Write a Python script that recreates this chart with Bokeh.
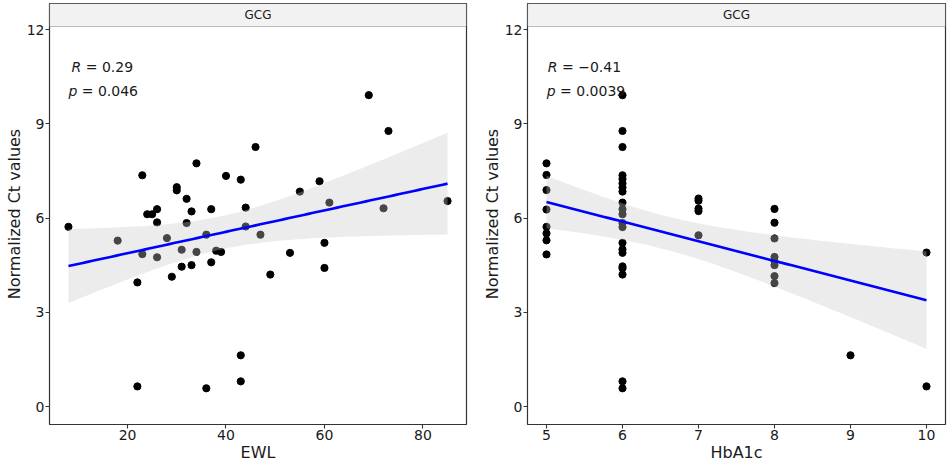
import numpy as np
from bokeh.plotting import figure
from bokeh.layouts import row
from bokeh.models import BoxAnnotation, Label, FixedTicker, Range1d
from bokeh.embed import file_html
from bokeh.resources import INLINE

# ---- data: left panel (EWL vs normalized Ct) ----
ewl = [8, 18, 22, 22, 23, 23, 24, 25, 26, 26, 26, 28, 29, 30, 30, 31, 31, 32, 32, 33,
       33, 34, 34, 36, 36, 37, 37, 38, 39, 40, 43, 43, 43, 44, 44, 46, 47, 49, 53, 55,
       59, 60, 60, 61, 69, 72, 73, 85]
ct_ewl = [5.72, 5.28, 3.95, 0.64, 7.36, 4.85, 6.12, 6.12, 6.28, 5.86, 4.75, 5.36, 4.13, 6.98, 6.88, 4.99, 4.45, 6.61, 5.84, 6.21,
          4.50, 7.74, 4.92, 5.47, 0.58, 6.28, 4.59, 4.96, 4.92, 7.34, 7.22, 1.63, 0.80, 6.33, 5.73, 8.26, 5.47, 4.20, 4.89, 6.84,
          7.17, 5.21, 4.41, 6.49, 9.91, 6.31, 8.77, 6.54]

# ---- data: right panel (HbA1c vs normalized Ct) ----
hba1c = [5] * 8 + [6] * 21 + [7] * 5 + [8] * 8 + [9] + [10] * 2
ct_hba1c = [7.74, 7.37, 6.89, 6.27, 5.72, 5.51, 5.29, 4.84,
            9.91, 8.77, 8.26, 7.36, 7.24, 7.10, 6.97, 6.84, 6.49, 6.28, 6.12, 5.84, 5.71, 5.21, 5.00, 4.89, 4.46, 4.40, 4.20, 0.80, 0.58,
            6.62, 6.55, 6.30, 6.22, 5.45,
            6.29, 5.85, 5.35, 4.76, 4.63, 4.50, 4.15, 3.93,
            1.63,
            4.90, 0.64]

strip_label = "GCG"
y_label = "Normalized Ct values"
left_xlabel = "EWL"
right_xlabel = "HbA1c"
NB = "\u00a0"
left_stats = ("R", NB + "=" + NB + "0.29", "p", NB + "=" + NB + "0.046")
right_stats = ("R", NB + "=" + NB + "\u22120.41", "p", NB + "=" + NB + "0.0039")
y_ticks = [0, 3, 6, 9, 12]
left_xticks = [20, 40, 60, 80]
right_xticks = [5, 6, 7, 8, 9, 10]

FONT = "DejaVu Sans"
DARK = "#1a1a1a"

Y_LO, Y_HI = -0.5729, 12.8276
STRIP_BOTTOM = 12.0955
STRIP_MID = 12.4615


def tq(df):
    z = 1.959964
    return z + (z**3 + z) / (4 * df) + (5 * z**5 + 16 * z**3 + 3 * z) / (96 * df**2)


def fit_band(x, y, n_pts=80):
    x = np.asarray(x, float)
    y = np.asarray(y, float)
    n = len(x)
    b, a = np.polyfit(x, y, 1)
    resid = y - (a + b * x)
    s = np.sqrt(np.sum(resid**2) / (n - 2))
    xm = x.mean()
    sxx = np.sum((x - xm) ** 2)
    xs = np.linspace(x.min(), x.max(), n_pts)
    yh = a + b * xs
    se = s * np.sqrt(1.0 / n + (xs - xm) ** 2 / sxx)
    t = tq(n - 2)
    return xs, yh, yh - t * se, yh + t * se


def panel(x, y, xr, xticks, xlabel, stats, anchors, fw, mbl, mbr):
    p = figure(frame_width=fw, frame_height=421, output_backend="svg", toolbar_location=None,
               x_range=Range1d(*xr), y_range=Range1d(Y_LO, Y_HI),
               min_border_left=mbl, min_border_right=mbr, min_border_top=3, min_border_bottom=36)
    p.xgrid.visible = False
    p.ygrid.visible = False
    p.background_fill_color = "white"
    p.border_fill_color = "white"
    p.outline_line_color = "#333333"
    p.outline_line_width = 1.2

    strip = BoxAnnotation(bottom=STRIP_BOTTOM, fill_color="#f2f2f2", fill_alpha=1.0,
                          line_color="#333333", line_width=1.2, level="underlay")
    p.add_layout(strip)
    p.add_layout(Label(x=(xr[0] + xr[1]) / 2, y=STRIP_MID, text=strip_label, text_align="center",
                       text_baseline="middle", text_font=FONT, text_font_size="12px", text_color=DARK))

    p.scatter(x, y, size=7.2, fill_color="black", line_color="black")
    xs, yh, lo, hi = fit_band(x, y)
    p.varea(x=xs, y1=lo, y2=hi, fill_color="#c8c8c8", fill_alpha=0.35)
    p.line(xs, yh, line_color="#0000ff", line_width=2.6)

    (ax_r, ay_r), (ax_p, ay_p) = anchors
    for (ax, ay, letter, rest) in [(ax_r, ay_r, stats[0], stats[1]), (ax_p, ay_p, stats[2], stats[3])]:
        p.add_layout(Label(x=ax, y=ay, text=letter, text_align="right", text_baseline="middle",
                           text_font=FONT, text_font_size="14px", text_font_style="italic", text_color=DARK))
        p.add_layout(Label(x=ax, y=ay, text=rest, text_align="left", text_baseline="middle",
                           text_font=FONT, text_font_size="14px", text_color=DARK))

    for ax in (p.xaxis, p.yaxis):
        ax.axis_line_color = None
        ax.major_tick_line_color = "#333333"
        ax.major_tick_line_width = 1.1
        ax.major_tick_out = 4
        ax.major_tick_in = 0
        ax.minor_tick_line_color = None
        ax.major_label_text_font = FONT
        ax.major_label_text_font_size = "14px"
        ax.major_label_text_color = DARK
        ax.axis_label_text_font = FONT
        ax.axis_label_text_font_size = "16px"
        ax.axis_label_text_font_style = "normal"
        ax.axis_label_text_color = DARK
        ax.major_label_standoff = 1
        ax.axis_label_standoff = 0
    p.xaxis.ticker = FixedTicker(ticks=xticks)
    p.yaxis.ticker = FixedTicker(ticks=y_ticks)
    p.xaxis.axis_label = xlabel
    p.yaxis.axis_label = y_label
    return p


p1 = panel(ewl, ct_ewl, (4.15, 88.85), left_xticks, left_xlabel, left_stats,
           ((10.6, 10.81), (9.8, 10.03)), 417, 49, 8)
p2 = panel(hba1c, ct_hba1c, (4.75, 10.25), right_xticks, right_xlabel, right_stats,
           ((5.145, 10.81), (5.12, 10.03)), 418, 53, 3)

layout = row(p1, p2)
open("out.html", "w").write(file_html(layout, INLINE))
